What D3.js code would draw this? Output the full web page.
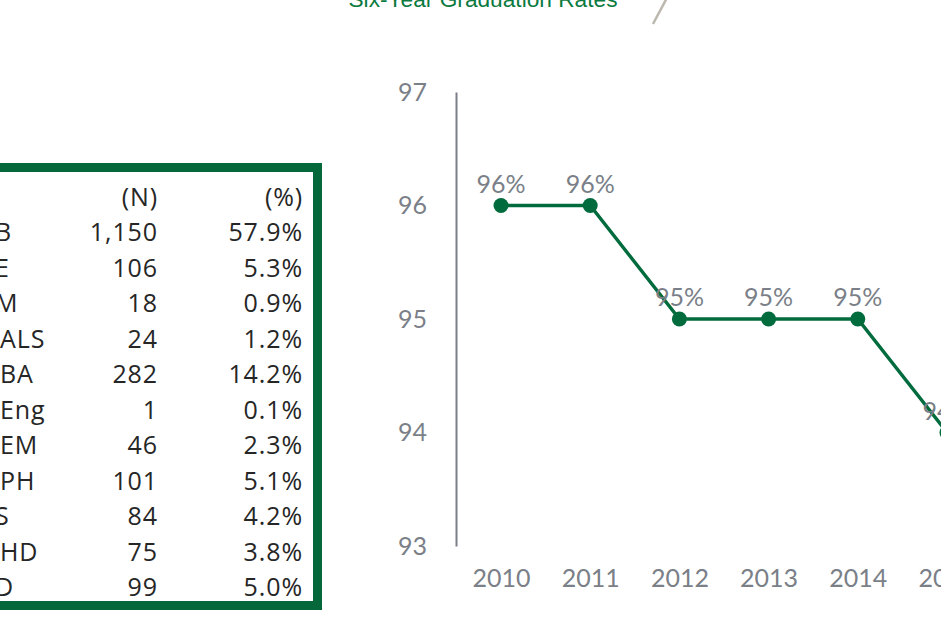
<!DOCTYPE html>
<html>
<head>
<meta charset="utf-8">
<script src="https://cdn.jsdelivr.net/npm/d3@7"></script>
<style>
  html, body { margin: 0; padding: 0; background: #ffffff; overflow: hidden; }
  svg { display: block; }
</style>
</head>
<body>
<svg id="chart" width="941" height="627"></svg>
<script>
// ---- data ----
const chartTitle = "Six-Year Graduation Rates";
const years = [2010, 2011, 2012, 2013, 2014, 2015];
const rates = [96, 96, 95, 95, 95, 94];
const yTicks = [93, 94, 95, 96, 97];

const tableHeader = ["", "(N)", "(%)"];
const tableLabels = ["B", "E", "M", "ALS", "BA", "Eng", "EM", "PH", "S", "HD", "D"];
const tableCounts = ["1,150", "106", "18", "24", "282", "1", "46", "101", "84", "75", "99"];
const tablePercents = ["57.9%", "5.3%", "0.9%", "1.2%", "14.2%", "0.1%", "2.3%", "5.1%", "4.2%", "3.8%", "5.0%"];

// ---- setup ----
const svg = d3.select("#chart");
const green = "#006b3c";
const grey = "#7a7f88";

// ---- title ----
svg.append("text")
  .attr("x", 483).attr("y", 7)
  .attr("text-anchor", "middle")
  .style("font-family", "'Liberation Sans', Arial, sans-serif")
  .style("font-size", "22.7px")
  .style("fill", "#0b7a3f")
  .text(chartTitle);

// decorative slash
svg.append("line")
  .attr("x1", 653).attr("y1", 24).attr("x2", 669).attr("y2", -6)
  .style("stroke", "#bcb8ae").style("stroke-width", 2.5);

// ---- table ----
const table = svg.append("g");
table.append("rect")
  .attr("x", -30).attr("y", 167.5)
  .attr("width", 347.5).attr("height", 438)
  .style("fill", "#ffffff")
  .style("stroke", "#04683a")
  .style("stroke-width", 9);

const rowY = d3.scaleLinear().domain([0, 1]).range([241, 276.5]);
const tFont = "'Open Sans', 'Noto Sans', sans-serif";
const tColor = "#262626";

function tstyle(sel) {
  return sel.style("font-family", tFont).style("font-size", "25px")
    .style("font-weight", 500).style("letter-spacing", "0.9px").style("fill", tColor);
}

tstyle(table.append("text").attr("x", 158).attr("y", 206)
  .attr("text-anchor", "end")).text(tableHeader[1]);
tstyle(table.append("text").attr("x", 303).attr("y", 206)
  .attr("text-anchor", "end")).text(tableHeader[2]);

const rows = table.selectAll("g.row")
  .data(tableLabels.map((l, i) => ({ label: l, n: tableCounts[i], p: tablePercents[i], i })))
  .join("g").attr("class", "row");

tstyle(rows.append("text")
  .attr("x", d => d.label.length === 1 ? -5 : 0)
  .attr("y", d => rowY(d.i)))
  .text(d => d.label);
tstyle(rows.append("text")
  .attr("x", 158).attr("y", d => rowY(d.i))
  .attr("text-anchor", "end"))
  .text(d => d.n);
tstyle(rows.append("text")
  .attr("x", 303).attr("y", d => rowY(d.i))
  .attr("text-anchor", "end"))
  .text(d => d.p);

// ---- line chart ----
const x = d3.scalePoint().domain(years).range([501, 947]);
const y = d3.scaleLinear().domain([93, 97]).range([546, 92]);
const cFont = "Lato, 'Open Sans', sans-serif";

// y axis
const yAxis = svg.append("g")
  .attr("transform", "translate(456,0)")
  .call(d3.axisLeft(y).tickValues(yTicks).tickSize(0).tickSizeOuter(0).tickPadding(29).tickFormat(d3.format("d")));
yAxis.select(".domain").style("stroke", grey).style("stroke-width", 2);
yAxis.selectAll("text")
  .style("font-family", cFont).style("font-size", "25px").style("fill", grey);

// x axis (labels only)
const xAxis = svg.append("g")
  .attr("transform", "translate(0,546)")
  .call(d3.axisBottom(x).tickSize(0).tickFormat(d3.format("d")));
xAxis.select(".domain").remove();
xAxis.selectAll("text")
  .attr("y", 41).attr("dy", 0)
  .style("font-family", cFont).style("font-size", "25px").style("fill", grey);

// line
const pts = years.map((yr, i) => ({ yr, v: rates[i] }));
svg.append("path")
  .datum(pts)
  .attr("d", d3.line().x(d => x(d.yr)).y(d => y(d.v)))
  .style("fill", "none").style("stroke", green).style("stroke-width", 3.4);

// labels
svg.selectAll("text.lbl")
  .data(pts).join("text").attr("class", "lbl")
  .attr("x", d => x(d.yr)).attr("y", d => y(d.v) - 13)
  .attr("text-anchor", "middle")
  .style("font-family", cFont).style("font-size", "25px").style("fill", grey)
  .text(d => d.v + "%");

// points
svg.selectAll("circle.pt")
  .data(pts).join("circle").attr("class", "pt")
  .attr("cx", d => x(d.yr)).attr("cy", d => y(d.v)).attr("r", 7.5)
  .style("fill", green);
</script>
</body>
</html>
